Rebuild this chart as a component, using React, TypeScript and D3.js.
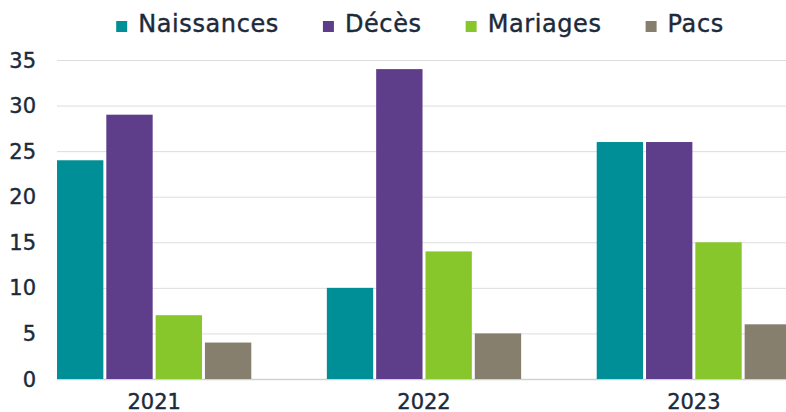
import * as d3 from "d3";
import { useEffect, useRef } from "react";

const years = ["2021", "2022", "2023"];
const series = ["Naissances", "Décès", "Mariages", "Pacs"];
const naissances = [24, 10, 26];
const deces = [29, 34, 26];
const mariages = [7, 14, 15];
const pacs = [4, 5, 6];
const yTicks = [0, 5, 10, 15, 20, 25, 30, 35];

const colors = ["#008f96", "#5e3d8a", "#88c72b", "#867f6d"];
const values = [naissances, deces, mariages, pacs];

const W = 786;
const H = 412;
const font = "'DejaVu Sans', sans-serif";
const textColor = "#1c2a3a";

export default function App() {
  const ref = useRef<SVGSVGElement>(null);

  useEffect(() => {
    const svg = d3.select(ref.current);
    svg.selectAll("*").remove();

    const left = 57;
    const baseline = 379;
    const top = 60;

    const y = d3.scaleLinear().domain([0, 35]).range([baseline, top]);
    const x0 = d3.scaleBand().domain(years).range([left, 791]).paddingInner(0.28).paddingOuter(0);
    const x1 = d3.scaleBand().domain(series).range([0, x0.bandwidth()]).paddingInner(0.06);

    // grid
    svg.append("g").selectAll("line").data(yTicks).enter().append("line")
      .attr("x1", left).attr("x2", W)
      .attr("y1", d => y(d) + 0.5).attr("y2", d => y(d) + 0.5)
      .attr("stroke", d => d === 0 ? "#cfd1d4" : "#dcdde0")
      .attr("stroke-width", d => d === 0 ? 1.5 : 1);

    // y labels
    svg.append("g").selectAll("text").data(yTicks).enter().append("text")
      .attr("x", 36).attr("y", d => y(d))
      .attr("dy", "0.36em")
      .attr("text-anchor", "end")
      .style("font", "21px " + font)
      .style("fill", textColor)
      .style("stroke", textColor).style("stroke-width", 0.4)
      .text(d => d);

    // bars
    const rows: { year: string; s: string; v: number; c: string }[] = [];
    years.forEach((yr, i) => {
      series.forEach((s, j) => rows.push({ year: yr, s, v: values[j][i], c: colors[j] }));
    });
    svg.append("g").selectAll("rect").data(rows).enter().append("rect")
      .attr("x", d => x0(d.year)! + x1(d.s)!)
      .attr("y", d => y(d.v))
      .attr("width", x1.bandwidth())
      .attr("height", d => baseline - y(d.v))
      .attr("fill", d => d.c);

    // x labels
    svg.append("g").selectAll("text").data(years).enter().append("text")
      .attr("x", d => x0(d)! + x0.bandwidth() / 2)
      .attr("y", 409)
      .attr("text-anchor", "middle")
      .style("font", "21px " + font)
      .style("fill", textColor)
      .style("stroke", textColor).style("stroke-width", 0.4)
      .text(d => d);

    // legend
    const lg = svg.append("g");
    const items = lg.selectAll("g").data(series).enter().append("g");
    items.append("rect")
      .attr("width", 11).attr("height", 11)
      .attr("y", 21)
      .attr("fill", (d, i) => colors[i]);
    const texts = items.append("text")
      .attr("x", 22).attr("y", 32)
      .style("font", "24px " + font)
      .style("letter-spacing", "0.6px")
      .style("fill", textColor)
      .style("stroke", textColor).style("stroke-width", 0.4)
      .text(d => d);
    let xpos = 0;
    const widths: number[] = [];
    texts.each(function () { widths.push((this as SVGTextElement).getComputedTextLength()); });
    const offsets: number[] = [];
    widths.forEach(w => { offsets.push(xpos); xpos += 22 + w + 44; });
    const total = xpos - 44;
    const start = 420 - total / 2;
    items.attr("transform", (d, i) => "translate(" + (start + offsets[i]) + ",0)");
  }, []);

  return (
    <div style={{ position: "absolute", left: 0, top: 0, width: W, height: H, background: "#fff" }}>
      <svg ref={ref} width={W} height={H} style={{ display: "block" }}></svg>
    </div>
  );
}
